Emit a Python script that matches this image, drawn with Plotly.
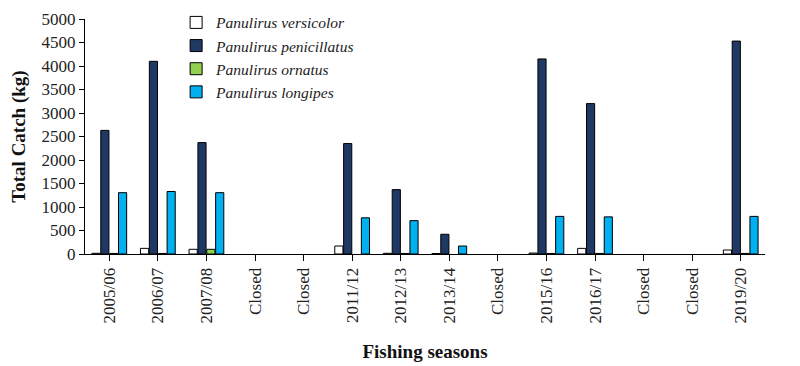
import plotly.graph_objects as go

seasons = ["2005/06", "2006/07", "2007/08", "Closed", "Closed", "2011/12", "2012/13",
           "2013/14", "Closed", "2015/16", "2016/17", "Closed", "Closed", "2019/20"]
versicolor = [15, 120, 100, None, None, 170, 15, 10, None, 20, 120, None, None, 85]
penicillatus = [2630, 4100, 2370, None, None, 2350, 1370, 420, None, 4150, 3200, None, None, 4530]
ornatus = [12, 12, 100, None, None, None, 12, None, None, 12, 12, None, None, 12]
longipes = [1305, 1330, 1305, None, None, 770, 710, 170, None, 800, 790, None, None, 800]

series = [
    ("Panulirus versicolor", versicolor, "#FFFFFF"),
    ("Panulirus penicillatus", penicillatus, "#1F3864"),
    ("Panulirus ornatus", ornatus, "#92D050"),
    ("Panulirus longipes", longipes, "#00B0F0"),
]

idx = list(range(len(seasons)))
font_family = "Liberation Serif, Times New Roman, serif"

fig = go.Figure()
for name, vals, color in series:
    fig.add_trace(go.Bar(
        x=idx, y=vals, name=name,
        marker=dict(color=color, line=dict(color="#000000", width=1)),
    ))

fig.update_layout(
    width=792, height=358,
    margin=dict(l=77, r=35, t=11, b=112, autoexpand=False),
    paper_bgcolor="white", plot_bgcolor="white",
    barmode="group", bargap=0.27, bargroupgap=0.08,
    font=dict(family=font_family, size=17, color="#222222"),
    showlegend=True,
    legend=dict(
        x=0.134, xanchor="left", y=1.056, yanchor="top",
        font=dict(family=font_family, size=15.5, color="#222222", style="italic"),
        bgcolor="rgba(0,0,0,0)", itemwidth=30, tracegroupgap=0,
    ),
    xaxis=dict(
        tickmode="array", tickvals=idx, ticktext=seasons,
        tickangle=-90, range=[-0.5, len(seasons) - 0.5],
        showline=True, linecolor="#000000", linewidth=1,
        ticks="outside", tickson="boundaries", ticklen=6, tickcolor="#000000",
        showgrid=False, zeroline=False, automargin=False,
        tickfont=dict(family=font_family, size=17, color="#222222"),
        title=dict(text="<b>Fishing seasons</b>", standoff=22,
                   font=dict(family=font_family, size=19, color="#111111")),
    ),
    yaxis=dict(
        range=[0, 5000], dtick=500,
        showline=True, linecolor="#000000", linewidth=1,
        ticks="outside", ticklen=5, tickcolor="#000000",
        showgrid=False, zeroline=False, automargin=False,
        tickfont=dict(family=font_family, size=17, color="#222222"),
        title=dict(text="<b>Total Catch (kg)</b>", standoff=12,
                   font=dict(family=font_family, size=19, color="#111111")),
    ),
)

fig.write_html("out.html")
